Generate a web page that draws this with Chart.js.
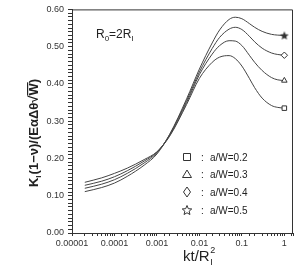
<!DOCTYPE html>
<html>
<head>
<meta charset="utf-8">
<script src="https://cdn.jsdelivr.net/npm/chart.js@4/dist/chart.umd.min.js"></script>
<style>
  html, body { margin: 0; padding: 0; background: #fff; }
</style>
</head>
<body>
<canvas id="chart" width="298" height="266"></canvas>
<script>
const ktValues = [2e-5, 5e-5, 1e-4, 2e-4, 5e-4, 1e-3, 2e-3, 5e-3, 0.01, 0.02, 0.03, 0.05, 0.07, 0.1, 0.15, 0.2, 0.3, 0.5, 0.7, 1];
const aw02 = [0.136, 0.148, 0.160, 0.174, 0.197, 0.218, 0.260, 0.345, 0.415, 0.458, 0.472, 0.476, 0.468, 0.448, 0.415, 0.390, 0.362, 0.342, 0.337, 0.335];
const aw03 = [0.128, 0.139, 0.151, 0.167, 0.193, 0.217, 0.262, 0.350, 0.425, 0.480, 0.503, 0.516, 0.515, 0.503, 0.477, 0.458, 0.436, 0.417, 0.411, 0.409];
const aw04 = [0.120, 0.131, 0.143, 0.160, 0.188, 0.215, 0.264, 0.355, 0.432, 0.495, 0.525, 0.547, 0.552, 0.546, 0.528, 0.513, 0.496, 0.483, 0.479, 0.477];
const aw05 = [0.111, 0.122, 0.134, 0.152, 0.182, 0.212, 0.265, 0.360, 0.440, 0.510, 0.545, 0.573, 0.579, 0.575, 0.562, 0.552, 0.541, 0.533, 0.531, 0.530];
const seriesLabels = ['a/W=0.2', 'a/W=0.3', 'a/W=0.4', 'a/W=0.5'];
const yTickLabels = ['0.00', '0.10', '0.20', '0.30', '0.40', '0.50', '0.60'];
const xTickLabels = ['0.00001', '0.0001', '0.001', '0.01', '0.1', '1'];

const ink = '#333';
const font = 'Liberation Sans, Arial, sans-serif';

function starPath(ctx, cx, cy, r) {
  ctx.beginPath();
  for (let i = 0; i < 10; i++) {
    const rr = i % 2 ? r * 0.45 : r;
    const a = -Math.PI / 2 + i * Math.PI / 5;
    ctx.lineTo(cx + rr * Math.cos(a), cy + rr * Math.sin(a));
  }
  ctx.closePath();
}

// filled star image for the end marker
const starImg = document.createElement('canvas');
starImg.width = 10; starImg.height = 10;
(function () {
  const c = starImg.getContext('2d');
  starPath(c, 5, 5.4, 4.6);
  c.fillStyle = '#333';
  c.fill();
})();

const pointStyles = ['rect', 'triangle', 'rectRot', starImg];
const allSeries = [aw02, aw03, aw04, aw05];

const datasets = allSeries.map((vals, i) => ({
  label: seriesLabels[i],
  data: ktValues.map((x, j) => ({ x: x, y: vals[j] })),
  borderColor: '#444',
  borderWidth: 1,
  backgroundColor: '#fff',
  fill: false,
  cubicInterpolationMode: 'monotone',
  pointStyle: pointStyles[i],
  pointRadius: ctx => ctx.dataIndex === ktValues.length - 1 ? 3.2 : 0,
  pointBorderWidth: 1,
  pointBorderColor: '#333',
  pointBackgroundColor: '#fff'
}));

// draw runs of text with sub/superscripts
function drawRuns(ctx, runs, x, y, align) {
  let w = 0;
  runs.forEach(r => { ctx.font = r.font; r.w = ctx.measureText(r.t).width; w += r.w + (r.gap || 0); });
  let cx = align === 'center' ? x - w / 2 : x;
  runs.forEach(r => {
    ctx.font = r.font;
    ctx.fillText(r.t, cx, y + (r.dy || 0));
    if (r.over) {
      ctx.fillRect(cx, y - r.over, r.w + 1, 1.2);
    }
    cx += r.w + (r.gap || 0);
  });
}

const decorations = {
  id: 'decorations',
  afterDraw(chart) {
    const ctx = chart.ctx;
    const a = chart.chartArea;
    ctx.save();
    ctx.strokeStyle = ink;
    ctx.lineWidth = 1;
    ctx.beginPath();
    ctx.moveTo(a.left, a.top + 0.5);
    ctx.lineTo(a.right - 0.5, a.top + 0.5);
    ctx.lineTo(a.right - 0.5, a.bottom);
    ctx.stroke();

    ctx.fillStyle = '#222';
    ctx.textBaseline = 'alphabetic';
    ctx.textAlign = 'left';

    // R0 = 2 RI
    const f12 = '12px ' + font, f8 = '8px ' + font;
    drawRuns(ctx, [
      { t: 'R', font: f12 }, { t: '0', font: f8, dy: 3 },
      { t: '=2R', font: f12 }, { t: 'I', font: f8, dy: 3 }
    ], 96, 38);

    // legend
    const rows = [157, 174, 192, 210];
    ctx.strokeStyle = '#333';
    rows.forEach((ry, i) => {
      const sx = 187;
      ctx.beginPath();
      if (i === 0) ctx.rect(sx - 3.5, ry - 3.5, 7, 7);
      if (i === 1) { ctx.moveTo(sx, ry - 4); ctx.lineTo(sx + 4.5, ry + 3.5); ctx.lineTo(sx - 4.5, ry + 3.5); ctx.closePath(); }
      if (i === 2) { ctx.moveTo(sx, ry - 5); ctx.lineTo(sx + 3.5, ry); ctx.lineTo(sx, ry + 5); ctx.lineTo(sx - 3.5, ry); ctx.closePath(); }
      if (i === 3) starPath(ctx, sx, ry + 0.5, 5);
      ctx.stroke();
      ctx.font = '10px ' + font;
      ctx.fillText(':', 201, ry + 3.5);
      ctx.fillText(seriesLabels[i], 210, ry + 3.5);
    });

    // y title
    ctx.save();
    ctx.translate(38, 133);
    ctx.rotate(-Math.PI / 2);
    const fb = 'bold 13px ' + font, fs = 'bold 8px ' + font;
    drawRuns(ctx, [
      { t: 'K', font: fb }, { t: 'I', font: fs, dy: 3, gap: 1 },
      { t: '(1\u2212\u03BD)/(E\u03B1\u0394\u03B8', font: fb },
      { t: '\u221A', font: fb }, { t: 'W', font: fb, over: 11 },
      { t: ')', font: fb }
    ], 0, 0, 'center');
    ctx.restore();

    // x title
    const f15 = '15px ' + font, f9 = '9px ' + font;
    ctx.font = f15;
    const wk = ctx.measureText('kt/R').width;
    const x0 = 183;
    ctx.fillText('kt/R', x0, 261);
    ctx.font = f9;
    ctx.fillText('I', x0 + wk + 0.5, 265);
    ctx.fillText('2', x0 + wk + 0.5, 253);
    ctx.restore();
  }
};

new Chart(document.getElementById('chart'), {
  type: 'line',
  data: { datasets: datasets },
  plugins: [decorations],
  options: {
    responsive: false,
    animation: false,
    layout: { padding: { top: 7, right: 1, left: 0, bottom: 0 } },
    plugins: { legend: { display: false }, tooltip: { enabled: false } },
    scales: {
      x: {
        type: 'logarithmic',
        min: 1e-5,
        max: 1.6,
        afterFit: s => { s.height = 33; },
        border: { color: ink, width: 1 },
        grid: { drawOnChartArea: false, drawTicks: true, tickLength: 3, color: ink },
        ticks: {
          autoSkip: false,
          maxRotation: 0,
          padding: 2,
          color: ink,
          font: { size: 9, family: font },
          callback: v => {
            const lg = Math.log10(v);
            if (Math.abs(lg - Math.round(lg)) < 1e-6) {
              const idx = Math.round(lg) + 5;
              return xTickLabels[idx] !== undefined ? xTickLabels[idx] : '';
            }
            return '';
          }
        }
      },
      y: {
        min: 0,
        max: 0.6,
        afterFit: s => { s.width = 72; },
        border: { color: ink, width: 1 },
        grid: { drawOnChartArea: false, drawTicks: true, tickLength: 4, color: ink },
        ticks: {
          stepSize: 0.01,
          autoSkip: false,
          padding: 4,
          color: ink,
          font: { size: 9, family: font },
          callback: v => {
            const t = v * 10;
            if (Math.abs(t - Math.round(t)) < 1e-6) return yTickLabels[Math.round(t)];
            return '';
          }
        }
      }
    }
  }
});
</script>
</body>
</html>
